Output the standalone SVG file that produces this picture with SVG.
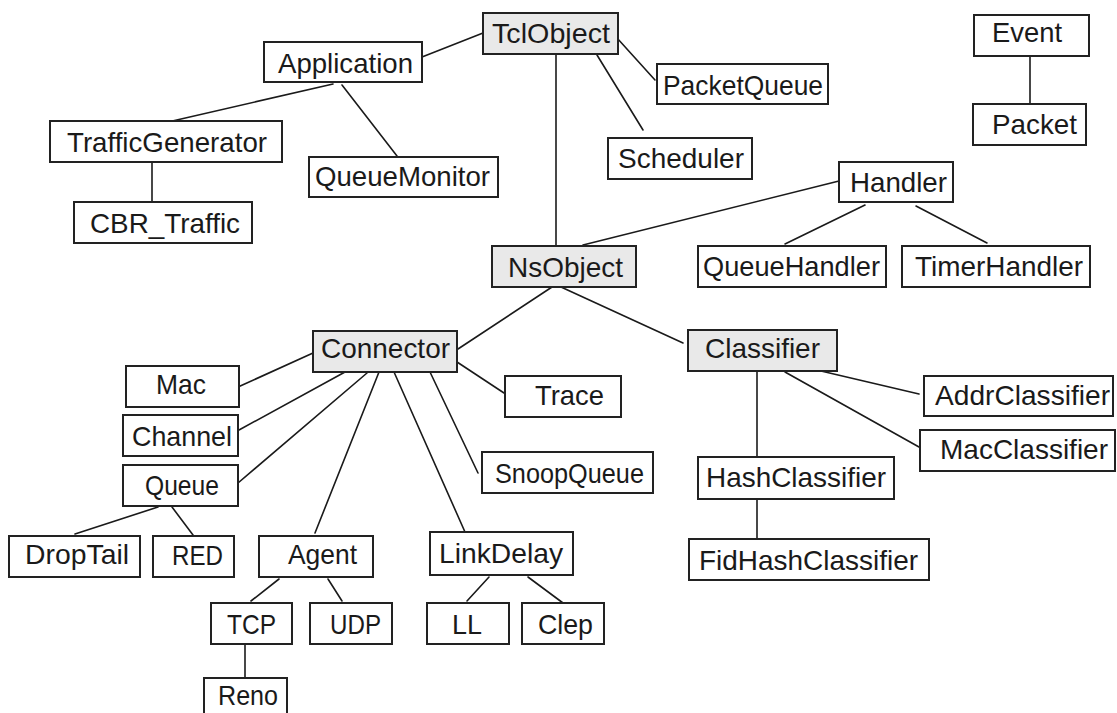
<svg xmlns="http://www.w3.org/2000/svg" width="1117" height="713" viewBox="0 0 1117 713">
  <style>
    .box { fill: #ffffff; stroke: #222222; stroke-width: 2; }
    .core { fill: #e9e9e9; }
    .lbl { font-family: "Liberation Sans", Arial, sans-serif; font-size: 28px; fill: #1a1a1a; }
    .edges line { stroke: #1a1a1a; stroke-width: 1.6; stroke-linecap: round; }
  </style>
  <rect width="1117" height="713" fill="#ffffff"/>

  <!-- inheritance links -->
  <g class="edges" id="connectors">
    <line x1="483" y1="33" x2="422" y2="57"/>
    <line x1="333" y1="84" x2="168" y2="122"/>
    <line x1="342" y1="85" x2="397" y2="156"/>
    <line x1="556" y1="54" x2="556" y2="246"/>
    <line x1="597" y1="55" x2="643" y2="130"/>
    <line x1="617" y1="38" x2="655" y2="80"/>
    <line x1="1030" y1="56" x2="1030" y2="104"/>
    <line x1="839" y1="181" x2="583" y2="245"/>
    <line x1="865" y1="205" x2="785" y2="244"/>
    <line x1="916" y1="206" x2="987" y2="243"/>
    <line x1="152" y1="162" x2="152" y2="202"/>
    <line x1="552" y1="287" x2="458" y2="349"/>
    <line x1="561" y1="287" x2="683" y2="343"/>
    <line x1="313" y1="353" x2="238" y2="387"/>
    <line x1="345" y1="372" x2="239" y2="430"/>
    <line x1="367" y1="373" x2="238" y2="483"/>
    <line x1="379" y1="372" x2="315" y2="533"/>
    <line x1="394" y1="372" x2="465" y2="532"/>
    <line x1="430" y1="372" x2="478" y2="473"/>
    <line x1="454" y1="360" x2="504" y2="393"/>
    <line x1="821" y1="371" x2="919" y2="394"/>
    <line x1="785" y1="372" x2="919" y2="447"/>
    <line x1="757" y1="371" x2="757" y2="456"/>
    <line x1="757" y1="499" x2="757" y2="539"/>
    <line x1="158" y1="507" x2="75" y2="534"/>
    <line x1="172" y1="507" x2="193" y2="535"/>
    <line x1="279" y1="579" x2="251" y2="601"/>
    <line x1="328" y1="579" x2="342" y2="601"/>
    <line x1="245" y1="644" x2="245" y2="678"/>
    <line x1="489" y1="577" x2="467" y2="601"/>
    <line x1="528" y1="577" x2="563" y2="603"/>
  </g>

  <!-- classes -->
  <g id="TclObject"><rect class="box core" x="483" y="13" width="135" height="41"/><text class="lbl" x="492" y="43" textLength="118" lengthAdjust="spacingAndGlyphs">TclObject</text></g>
  <g id="Application"><rect class="box" x="264" y="42" width="158" height="40"/><text class="lbl" x="278" y="73" textLength="135" lengthAdjust="spacingAndGlyphs">Application</text></g>
  <g id="QueueMonitor"><rect class="box" x="309" y="157" width="189" height="40"/><text class="lbl" x="315" y="186" textLength="175" lengthAdjust="spacingAndGlyphs">QueueMonitor</text></g>
  <g id="TrafficGenerator"><rect class="box" x="50" y="121" width="232" height="41"/><text class="lbl" x="67" y="152" textLength="200" lengthAdjust="spacingAndGlyphs">TrafficGenerator</text></g>
  <g id="CBR_Traffic"><rect class="box" x="74" y="202" width="178" height="41"/><text class="lbl" x="90" y="233" textLength="150" lengthAdjust="spacingAndGlyphs">CBR_Traffic</text></g>
  <g id="PacketQueue"><rect class="box" x="657" y="64" width="171" height="40"/><text class="lbl" x="663" y="95" textLength="160" lengthAdjust="spacingAndGlyphs">PacketQueue</text></g>
  <g id="Scheduler"><rect class="box" x="608" y="138" width="144" height="41"/><text class="lbl" x="618" y="168" textLength="126" lengthAdjust="spacingAndGlyphs">Scheduler</text></g>
  <g id="Event"><rect class="box" x="974" y="15" width="115" height="41"/><text class="lbl" x="992" y="42" textLength="70" lengthAdjust="spacingAndGlyphs">Event</text></g>
  <g id="Packet"><rect class="box" x="973" y="104" width="113" height="41"/><text class="lbl" x="992" y="134" textLength="85" lengthAdjust="spacingAndGlyphs">Packet</text></g>
  <g id="Handler"><rect class="box" x="839" y="162" width="114" height="40"/><text class="lbl" x="850" y="192" textLength="97" lengthAdjust="spacingAndGlyphs">Handler</text></g>
  <g id="QueueHandler"><rect class="box" x="698" y="246" width="188" height="41"/><text class="lbl" x="703" y="276" textLength="177" lengthAdjust="spacingAndGlyphs">QueueHandler</text></g>
  <g id="TimerHandler"><rect class="box" x="902" y="246" width="188" height="41"/><text class="lbl" x="915" y="276" textLength="168" lengthAdjust="spacingAndGlyphs">TimerHandler</text></g>
  <g id="NsObject"><rect class="box core" x="492" y="246" width="144" height="41"/><text class="lbl" x="508" y="277" textLength="115" lengthAdjust="spacingAndGlyphs">NsObject</text></g>
  <g id="Connector"><rect class="box core" x="313" y="331" width="144" height="41"/><text class="lbl" x="321" y="358" textLength="129" lengthAdjust="spacingAndGlyphs">Connector</text></g>
  <g id="Classifier"><rect class="box core" x="688" y="330" width="149" height="41"/><text class="lbl" x="705" y="358" textLength="115" lengthAdjust="spacingAndGlyphs">Classifier</text></g>
  <g id="Trace"><rect class="box" x="505" y="376" width="116" height="41"/><text class="lbl" x="535" y="405" textLength="69" lengthAdjust="spacingAndGlyphs">Trace</text></g>
  <g id="SnoopQueue"><rect class="box" x="482" y="452" width="171" height="41"/><text class="lbl" x="495" y="483" textLength="149" lengthAdjust="spacingAndGlyphs">SnoopQueue</text></g>
  <g id="AddrClassifier"><rect class="box" x="924" y="376" width="189" height="40"/><text class="lbl" x="935" y="405" textLength="175" lengthAdjust="spacingAndGlyphs">AddrClassifier</text></g>
  <g id="MacClassifier"><rect class="box" x="920" y="430" width="195" height="41"/><text class="lbl" x="940" y="459" textLength="168" lengthAdjust="spacingAndGlyphs">MacClassifier</text></g>
  <g id="HashClassifier"><rect class="box" x="698" y="457" width="196" height="42"/><text class="lbl" x="706" y="487" textLength="180" lengthAdjust="spacingAndGlyphs">HashClassifier</text></g>
  <g id="FidHashClassifier"><rect class="box" x="689" y="539" width="240" height="41"/><text class="lbl" x="699" y="570" textLength="219" lengthAdjust="spacingAndGlyphs">FidHashClassifier</text></g>
  <g id="Mac"><rect class="box" x="126" y="366" width="113" height="41"/><text class="lbl" x="156" y="394" textLength="50" lengthAdjust="spacingAndGlyphs">Mac</text></g>
  <g id="Channel"><rect class="box" x="123" y="415" width="115" height="41"/><text class="lbl" x="132" y="446" textLength="100" lengthAdjust="spacingAndGlyphs">Channel</text></g>
  <g id="Queue"><rect class="box" x="123" y="465" width="115" height="41"/><text class="lbl" x="145" y="495" textLength="74" lengthAdjust="spacingAndGlyphs">Queue</text></g>
  <g id="DropTail"><rect class="box" x="9" y="536" width="131" height="41"/><text class="lbl" x="25" y="564" textLength="104" lengthAdjust="spacingAndGlyphs">DropTail</text></g>
  <g id="RED"><rect class="box" x="153" y="536" width="81" height="41"/><text class="lbl" x="172" y="565" textLength="51" lengthAdjust="spacingAndGlyphs">RED</text></g>
  <g id="Agent"><rect class="box" x="259" y="536" width="114" height="41"/><text class="lbl" x="288" y="564" textLength="69" lengthAdjust="spacingAndGlyphs">Agent</text></g>
  <g id="LinkDelay"><rect class="box" x="430" y="532" width="143" height="43"/><text class="lbl" x="439" y="563" textLength="124" lengthAdjust="spacingAndGlyphs">LinkDelay</text></g>
  <g id="TCP"><rect class="box" x="211" y="603" width="81" height="41"/><text class="lbl" x="227" y="634" textLength="49" lengthAdjust="spacingAndGlyphs">TCP</text></g>
  <g id="UDP"><rect class="box" x="310" y="603" width="82" height="41"/><text class="lbl" x="330" y="634" textLength="51" lengthAdjust="spacingAndGlyphs">UDP</text></g>
  <g id="LL"><rect class="box" x="427" y="603" width="82" height="41"/><text class="lbl" x="452" y="634" textLength="30" lengthAdjust="spacingAndGlyphs">LL</text></g>
  <g id="Clep"><rect class="box" x="522" y="603" width="82" height="41"/><text class="lbl" x="538" y="634" textLength="55" lengthAdjust="spacingAndGlyphs">Clep</text></g>
  <g id="Reno"><rect class="box" x="204" y="678" width="83" height="50"/><text class="lbl" x="218" y="705" textLength="60" lengthAdjust="spacingAndGlyphs">Reno</text></g>
</svg>
